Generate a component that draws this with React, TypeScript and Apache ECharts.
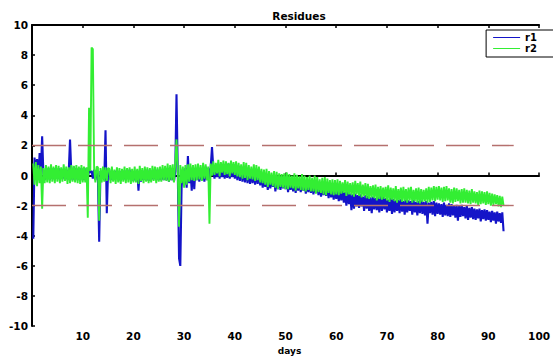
import React, { useEffect, useRef } from "react";
import * as echarts from "echarts";

// Sampling of the residues: first day and spacing (days)
const START_DAY = 0.25;
const STEP_DAY = 0.25;

// r1 residues (blue), one value per quarter day from day 0.25 to day 93
const r1: number[] = [
  -4.2, 1.2, 0.3, 1.1, -0.3, 1.5, 0.2, 2.6, 0.1, -0.3, 0.4, -0.2, 0.5, -0.3, 0.4, -0.2, 0.5, -0.3, 0.4, -0.2,
  0.5, -0.3, 0.4, -0.2, 0.45, -0.3, 0.4, -0.25, 0.3, 2.4, 0.2, -0.3, 0.6, -0.2, 0.5, -0.3, 0.45, -0.25, 0.5, -0.3,
  0.4, -0.3, 0.5, -0.2, 0.4, 0.2, 0.3, -0.2, 0.4, -0.3, 0.35, -0.2, -4.4, 0.3, -0.2, 0.4, -0.3, 3.0, -2.5, 0.3,
  0.3, -0.3, 0.4, -0.3, 0.3, -0.2, 0.35, -0.3, 0.3, -0.35, 0.3, -0.25, 0.35, -0.3, 0.3, -0.2, 0.4, -0.3, 0.3, -0.35,
  0.3, -0.3, 0.35, -1.0, 0.3, -0.4, 0.35, -0.3, 0.3, -0.3, 0.4, -0.35, 0.3, -0.3, 0.35, -0.25, 0.3, -0.3, 0.4, -0.3,
  0.4, -0.3, 0.4, -0.3, 0.45, -0.3, 0.5, -0.4, 0.4, -0.3, 0.5, -0.4, 0.3, 5.4, 0.2, -5.5, -6.0, -0.8, 0.4, -0.6,
  0.5, -0.8, 1.3, -0.5, 0.4, -1.0, 0.6, -0.9, 0.5, -0.3, 0.5, -0.4, 0.5, -0.3, 0.5, -0.4, 0.6, -0.3, 0.5, -0.3,
  0.6, 1.9, 0.5, -0.2, 0.7, -0.1, 0.7, -0.2, 0.8, -0.1, 0.7, -0.2, 0.75, -0.15, 0.8, -0.2, 0.7, -0.1, 0.75, -0.2,
  0.6, -0.3, 0.65, -0.35, 0.6, -0.4, 0.5, -0.45, 0.55, -0.5, 0.45, -0.55, 0.4, -0.5, 0.35, -0.6, 0.3, -0.55, 0.3, -0.65,
  0.1, -0.8, 0.0, -0.75, -0.1, -0.95, 0.05, -0.85, -0.1, -0.75, -0.15, -1.05, -0.05, -0.9, -0.1, -0.95, -0.2, -0.85, -0.05, -0.9,
  -0.2, -1.1, -0.35, -0.95, -0.25, -1.05, -0.3, -1.15, -0.2, -1.0, -0.35, -1.1, -0.3, -1.0, -0.4, -1.2, -0.35, -1.1, -0.4, -1.15,
  -0.45, -1.25, -0.6, -1.15, -0.5, -1.3, -0.55, -1.4, -0.7, -1.3, -0.65, -1.35, -0.75, -1.5, -0.7, -1.45, -0.8, -1.6, -0.75, -1.55,
  -0.9, -1.7, -1.0, -1.65, -0.95, -1.8, -1.1, -2.0, -1.05, -1.9, -1.2, -2.3, -1.25, -2.2, -1.2, -2.05, -1.3, -2.15, -1.25, -2.05,
  -1.4, -2.35, -1.3, -2.2, -1.35, -2.35, -1.45, -2.5, -1.4, -2.25, -1.5, -2.3, -1.45, -2.45, -1.35, -2.35, -1.4, -2.25, -1.5, -2.45,
  -1.6, -2.35, -1.5, -2.55, -1.55, -2.45, -1.65, -2.35, -1.6, -2.5, -1.55, -2.4, -1.7, -2.6, -1.6, -2.45, -1.65, -2.35, -1.7, -2.6,
  -1.6, -2.45, -1.75, -2.65, -1.7, -2.5, -1.65, -2.55, -1.75, -2.65, -1.7, -3.2, -1.8, -2.5, -1.75, -2.6, -1.7, -2.7, -1.8, -2.55,
  -1.85, -2.6, -1.9, -2.75, -1.8, -2.65, -1.95, -2.7, -1.85, -2.75, -1.9, -2.65, -2.0, -2.8, -1.95, -3.0, -2.0, -2.75, -1.95, -2.7,
  -2.1, -2.85, -2.0, -2.95, -2.15, -2.8, -2.1, -2.9, -2.2, -2.95, -2.25, -2.85, -2.2, -3.05, -2.3, -2.9, -2.25, -3.0, -2.3, -2.95,
  -2.4, -3.1, -2.35, -3.0, -2.45, -3.2, -2.4, -3.05, -2.5, -3.15, -2.45, -3.7,
];

// r2 residues (green), same sampling
const r2: number[] = [
  0.8, -0.6, 0.9, -0.7, 0.7, -0.5, 0.6, -2.2, 0.5, -0.5, 0.7, -0.45, 0.6, -0.5, 0.75, -0.4, 0.6, -0.5, 0.7, -0.4,
  0.65, -0.5, 0.55, -0.4, 0.75, -0.35, 0.6, -0.55, 0.55, -0.5, 0.7, -0.4, 0.65, -0.45, 0.7, -0.5, 0.6, -0.55, 0.7, -0.45,
  0.6, -0.45, 0.55, -2.8, 4.5, 0.3, 8.5, 8.4, 0.5, -0.45, 0.6, 0.55, -3.0, 0.5, -0.45, 0.6, -0.4, 0.55, -0.35, 0.5,
  0.45, -0.5, 0.6, -0.4, 0.4, -0.55, 0.55, -0.45, 0.5, -0.55, 0.45, -0.4, 0.6, -0.5, 0.5, -0.45, 0.55, -0.55, 0.45, -0.45,
  0.6, -0.45, 0.45, -0.55, 0.65, -0.35, 0.5, -0.5, 0.6, -0.4, 0.55, -0.5, 0.5, -0.45, 0.65, -0.35, 0.6, -0.5, 0.55, -0.4,
  0.6, -0.4, 0.7, -0.3, 0.65, -0.35, 0.8, -0.4, 0.7, -0.3, 0.75, -0.45, 0.8, 2.4, 0.3, -3.4, 0.7, -0.5, 0.6, -0.8,
  0.7, -0.6, 0.75, -0.4, 0.8, -0.3, 0.7, -0.35, 0.75, -0.3, 0.8, -0.25, 0.7, -0.35, 0.85, -0.2, 0.75, -0.3, 0.6, -3.2,
  0.8, 0.0, 0.95, 0.05, 0.85, 0.15, 1.05, -0.05, 0.9, 0.2, 1.0, 0.05, 0.95, 0.1, 0.85, -0.05, 1.0, 0.15, 0.9, 0.05,
  0.95, -0.05, 0.85, -0.1, 0.75, -0.2, 0.9, -0.15, 0.85, -0.3, 0.7, -0.2, 0.6, -0.25, 0.75, -0.35, 0.7, -0.3, 0.6, -0.45,
  0.45, -0.5, 0.4, -0.6, 0.45, -0.75, 0.3, -0.6, 0.2, -0.7, 0.3, -0.8, 0.25, -0.9, 0.15, -0.75, 0.1, -0.8, 0.15, -0.9,
  0.2, -0.9, 0.1, -0.8, 0.0, -0.85, 0.15, -1.0, 0.05, -0.85, -0.05, -0.95, 0.1, -1.0, 0.0, -1.05, -0.1, -0.95, 0.0, -1.05,
  -0.15, -1.05, 0.0, -1.2, -0.1, -1.1, -0.25, -1.15, -0.15, -1.25, -0.1, -1.3, -0.2, -1.15, -0.3, -1.25, -0.25, -1.3, -0.3, -1.25,
  -0.25, -1.3, -0.35, -1.2, -0.45, -1.15, -0.3, -1.35, -0.4, -1.25, -0.5, -1.3, -0.45, -1.4, -0.35, -1.25, -0.5, -1.35, -0.4, -1.45,
  -0.6, -1.35, -0.5, -1.5, -0.55, -1.55, -0.7, -1.45, -0.65, -1.5, -0.6, -1.65, -0.75, -1.55, -0.7, -1.6, -0.8, -1.55, -0.75, -1.65,
  -0.65, -1.75, -0.8, -1.6, -0.85, -1.7, -0.7, -1.8, -0.9, -1.65, -0.8, -1.75, -0.75, -1.7, -0.9, -1.8, -0.8, -1.65, -0.75, -1.8,
  -0.95, -1.7, -0.85, -1.8, -0.8, -1.85, -0.9, -1.75, -0.95, -1.7, -0.85, -1.8, -0.75, -1.75, -0.8, -1.65, -0.7, -1.7, -0.75, -1.6,
  -0.7, -1.65, -0.8, -1.75, -0.75, -1.7, -0.7, -1.65, -0.85, -1.8, -0.9, -1.85, -0.8, -1.75, -0.85, -1.7, -0.95, -1.85, -0.9, -1.8,
  -0.85, -1.8, -0.95, -1.85, -1.0, -1.9, -0.9, -1.8, -1.05, -1.85, -1.1, -1.95, -1.0, -1.9, -1.05, -1.85, -1.1, -1.95, -1.05, -1.9,
  -1.15, -2.0, -1.2, -1.95, -1.25, -1.9, -1.3, -2.05, -1.35, -2.1, -1.4, -2.0,
];

// Threshold lines (±2) and their extent in days
const thresholds: number[] = [2, -2];
const thresholdSpan: number[] = [0, 95];

const seriesNames: string[] = ["r1", "r2"];

const FONT = "'DejaVu Sans', Verdana, sans-serif";

export default function App() {
  const ref = useRef<HTMLDivElement>(null);

  useEffect(() => {
    if (!ref.current) return;
    const chart = echarts.init(ref.current, null, { renderer: "svg" });

    const toPairs = (vals: number[]) =>
      vals.map((v, i) => [START_DAY + i * STEP_DAY, v]);

    const axisText = { fontFamily: FONT, fontSize: 10.5, fontWeight: "bold" as const, color: "#000" };

    chart.setOption({
      animation: false,
      backgroundColor: "#fff",
      title: {
        text: "Residues",
        left: 294,
        textAlign: "center",
        top: 5,
        textStyle: { ...axisText, fontSize: 10.5 },
      },
      legend: {
        data: seriesNames,
        orient: "vertical",
        right: -6,
        top: 30,
        padding: [2, 22, 3, 7],
        itemGap: 0,
        itemWidth: 27,
        itemHeight: 8,
        borderColor: "#000",
        borderWidth: 1,
        backgroundColor: "#fff",
        textStyle: { ...axisText, fontSize: 10, lineHeight: 11 },
        icon: "path://M0,4 L27,4 L27,5 L0,5 Z",
      },
      grid: { left: 32, top: 25, right: 7, bottom: 28 },
      xAxis: [
        {
          type: "value",
          min: 0,
          max: 100,
          interval: 10,
          name: "days",
          nameLocation: "middle",
          nameGap: 19,
          nameTextStyle: { ...axisText, fontSize: 9, padding: [0, 0, 0, 8] },
          axisLine: { show: true, lineStyle: { color: "#000", width: 2 } },
          axisTick: { show: true, inside: true, length: 3, lineStyle: { color: "#000", width: 1.5 } },
          axisLabel: { ...axisText, margin: 4, showMinLabel: false },
          splitLine: { show: false },
        },
        {
          type: "value",
          position: "top",
          min: 0,
          max: 100,
          interval: 10,
          axisLine: { show: true, lineStyle: { color: "#000", width: 2 } },
          axisTick: { show: true, inside: true, length: 3, lineStyle: { color: "#000", width: 1.5 } },
          axisLabel: { show: false },
          splitLine: { show: false },
        },
      ],
      yAxis: {
        type: "value",
        min: -10,
        max: 10,
        interval: 2,
        axisLine: { show: true, lineStyle: { color: "#000", width: 2 } },
        axisTick: { show: true, inside: true, length: 3, lineStyle: { color: "#000", width: 1.5 } },
        axisLabel: { ...axisText, margin: 4 },
        splitLine: { show: false },
      },
      series: [
        {
          name: seriesNames[0],
          type: "line",
          data: toPairs(r1),
          showSymbol: false,
          symbol: "none",
          color: "#1414c8",
          lineStyle: { width: 2.1, color: "#1414c8" },
          z: 2,
          markLine: {
            silent: true,
            symbol: "none",
            label: { show: false },
            lineStyle: { color: "#b5706e", width: 1.4, type: [34, 12] },
            data: thresholds.map((t) => [
              { coord: [thresholdSpan[0], t] },
              { coord: [thresholdSpan[1], t] },
            ]),
          },
        },
        {
          name: seriesNames[1],
          type: "line",
          data: toPairs(r2),
          showSymbol: false,
          symbol: "none",
          color: "#33ee33",
          lineStyle: { width: 1.9, color: "#33ee33" },
          z: 3,
        },
      ],
    });

    return () => chart.dispose();
  }, []);

  return <div ref={ref} style={{ width: 553, height: 360, position: "absolute", left: 0, top: 0 }} />;
}
